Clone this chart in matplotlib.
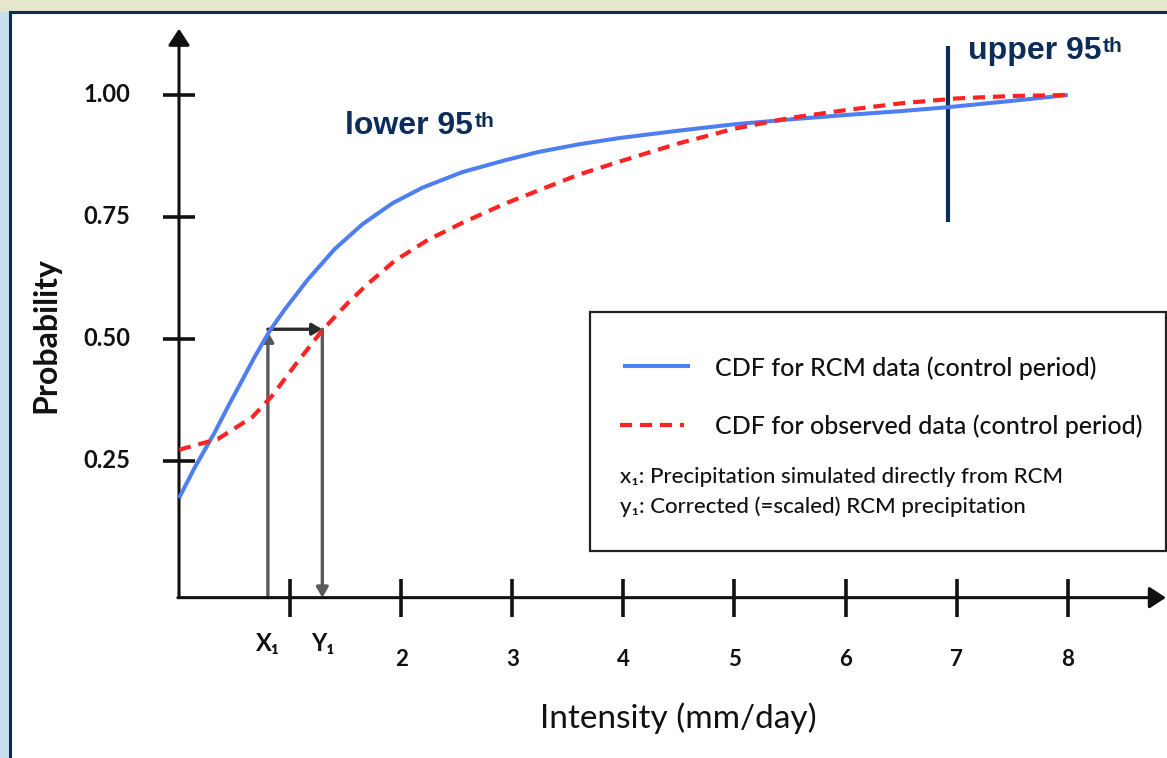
import matplotlib
matplotlib.use('Agg')
import matplotlib.pyplot as plt
from matplotlib.patches import Rectangle
from matplotlib.lines import Line2D
import numpy as np

plt.rcParams['font.family'] = ['Lato', 'DejaVu Sans']

# ---------------- data ----------------
rcm_x = [0.0, 0.14, 0.32, 0.44, 0.57, 0.68, 0.82, 0.95, 1.16, 1.40, 1.65, 1.92, 2.19, 2.55,
         2.93, 3.23, 3.60, 3.97, 4.5, 5.0, 5.5, 6.0, 6.5, 6.92, 7.5, 8.0]
rcm_p = [0.174, 0.236, 0.308, 0.361, 0.416, 0.463, 0.518, 0.560, 0.622, 0.684, 0.735, 0.778, 0.810, 0.842,
         0.866, 0.883, 0.899, 0.912, 0.927, 0.940, 0.950, 0.959, 0.967, 0.975, 0.988, 1.0]
obs_x = [0.0, 0.35, 0.66, 0.84, 1.04, 1.29, 1.52, 1.70, 1.94, 2.24, 2.55, 2.93, 3.23, 3.60,
         3.97, 4.5, 5.0, 5.5, 6.0, 6.5, 7.0, 7.5, 8.0]
obs_p = [0.273, 0.295, 0.340, 0.384, 0.445, 0.518, 0.574, 0.613, 0.660, 0.703, 0.738, 0.777, 0.804, 0.837,
         0.864, 0.901, 0.931, 0.953, 0.969, 0.983, 0.993, 0.998, 1.0]

y_ticks = [0.25, 0.50, 0.75, 1.00]
y_tick_labels = ['0.25', '0.50', '0.75', '1.00']
x_ticks = [1, 2, 3, 4, 5, 6, 7, 8]
x_tick_labels = ['', '2', '3', '4', '5', '6', '7', '8']

x1_val = 0.80      # precipitation simulated by RCM
y1_val = 1.29      # corrected precipitation
p1_val = 0.52      # common probability
upper95_x = 6.92
upper95_span = (0.74, 1.10)

legend_labels = ['CDF for RCM data (control period)',
                 'CDF for observed data (control period)']
legend_notes = ['x\u2081: Precipitation simulated directly from RCM',
                'y\u2081: Corrected (=scaled) RCM precipitation']

# ---------------- layout ----------------
W, H = 1167, 758
X0PX, XSCALE = 179, 111.1      # pixel of x=0, pixels per unit
Y0PX, YSCALE = 583, 488        # pixel of p=0, pixels per unit
axis_y = -0.03                 # probability level of the drawn x-axis line

BLUE = '#4d7ef2'
RED = '#ff2323'
NAVY = '#0c2c59'
INK = '#111111'

def fx(px):
    return px / W

def fy(py):
    return 1 - py / H

fig = plt.figure(figsize=(W / 100, H / 100), dpi=100, facecolor='#e4e6cd')
fig.patches.append(Rectangle((0, 0), fx(10), fy(12), transform=fig.transFigure,
                             facecolor='#c9dff0', edgecolor='none', zorder=-10))
fig.patches.append(Rectangle((fx(10), -0.05), 1.0, fy(12) + 0.05, transform=fig.transFigure,
                             facecolor='white', edgecolor=NAVY, lw=2.2, zorder=-9))

ax = fig.add_axes([0, 0, 1, 1])
ax.set_xlim(-X0PX / XSCALE, (W - X0PX) / XSCALE)
ax.set_ylim((Y0PX - H) / YSCALE, Y0PX / YSCALE)
ax.axis('off')

# axes with arrows
ax.annotate('', xy=(0, 1.136), xytext=(0, axis_y),
            arrowprops=dict(arrowstyle='-|>,head_length=1.0,head_width=0.65',
                            lw=2.2, color=INK, shrinkA=0, shrinkB=0))
ax.annotate('', xy=((W - 1 - X0PX) / XSCALE, axis_y), xytext=(-0.01, axis_y),
            arrowprops=dict(arrowstyle='-|>,head_length=1.0,head_width=0.65',
                            lw=2.2, color=INK, shrinkA=0, shrinkB=0))

# ticks
ax.plot(np.zeros(len(y_ticks)), y_ticks, ls='none', marker='_', ms=23, mew=2.6, color=INK)
ax.plot(x_ticks, [axis_y] * len(x_ticks), ls='none', marker='|', ms=28, mew=2.6, color=INK)
for v, lab in zip(y_ticks, y_tick_labels):
    ax.text(-0.44, v, lab, ha='right', va='center', fontsize=17, fontweight='bold', color=INK)
for v, lab in zip(x_ticks, x_tick_labels):
    ax.text(v, -0.157, lab, ha='center', va='center', fontsize=16, fontweight='bold', color=INK)
ax.text(x1_val, -0.125, 'X\u2081', ha='center', va='center', fontsize=17, fontweight='bold', color=INK)
ax.text(y1_val, -0.125, 'Y\u2081', ha='center', va='center', fontsize=17, fontweight='bold', color=INK)

# curves
ax.plot(rcm_x, rcm_p, color=BLUE, lw=2.9, solid_capstyle='butt', solid_joinstyle='round', zorder=3)
ax.plot(obs_x, obs_p, color=RED, lw=3.0, dashes=(2.9, 1.9), zorder=3)

# mapping arrows
ax.annotate('', xy=(x1_val, p1_val - 0.005), xytext=(x1_val, axis_y),
            arrowprops=dict(arrowstyle='-|>,head_length=0.6,head_width=0.35',
                            lw=2.4, color='#5a5a5a', shrinkA=0, shrinkB=0), zorder=2)
ax.annotate('', xy=(y1_val, p1_val), xytext=(x1_val, p1_val),
            arrowprops=dict(arrowstyle='-|>,head_length=0.6,head_width=0.35',
                            lw=2.4, color='#2b2b2b', shrinkA=0, shrinkB=0), zorder=2)
ax.annotate('', xy=(y1_val, axis_y), xytext=(y1_val, p1_val),
            arrowprops=dict(arrowstyle='-|>,head_length=0.6,head_width=0.35',
                            lw=2.4, color='#5a5a5a', shrinkA=0, shrinkB=0), zorder=2)

# upper 95th marker
ax.plot([upper95_x, upper95_x], upper95_span, color=NAVY, lw=3.0, solid_capstyle='butt')

def percentile_label(xd, yd, word):
    t = ax.text(xd, yd, word + ' 95', fontsize=23, fontweight='bold', color=NAVY,
                family=['Liberation Sans', 'DejaVu Sans'], ha='left', va='baseline')
    ax.annotate('th', xy=(1, 1), xycoords=t, xytext=(1, -1), textcoords='offset points',
                ha='left', va='top', fontsize=15, fontweight='bold', color=NAVY,
                family=['Liberation Sans', 'DejaVu Sans'])

percentile_label((345 - X0PX) / XSCALE, (Y0PX - 134) / YSCALE, 'lower')
percentile_label((968 - X0PX) / XSCALE, (Y0PX - 59) / YSCALE, 'upper')

# axis titles
fig.text(fx(46), fy(335), 'Probability', rotation=90, ha='center', va='center',
         fontsize=23, fontweight='bold', color=INK)
fig.text(fx(678), fy(718), 'Intensity (mm/day)', ha='center', va='center',
         fontsize=24, color=INK)

# legend box (manual)
fig.patches.append(Rectangle((fx(590), fy(551)), (1166 - 590) / W, (551 - 312) / H,
                             transform=fig.transFigure, facecolor='white',
                             edgecolor='#222222', lw=1.6, zorder=5))
fig.add_artist(Line2D([fx(625), fx(688)], [fy(366), fy(366)], transform=fig.transFigure,
                      color=BLUE, lw=2.9, zorder=6))
fig.add_artist(Line2D([fx(620), fx(684)], [fy(425), fy(425)], transform=fig.transFigure,
                      color=RED, lw=3.0, dashes=(2.9, 1.9), zorder=6))
fig.text(fx(715), fy(368), legend_labels[0], ha='left', va='center', fontsize=18,
         fontweight='medium', color='#111111', zorder=7)
fig.text(fx(715), fy(426), legend_labels[1], ha='left', va='center', fontsize=18,
         fontweight='medium', color='#111111', zorder=7)
fig.text(fx(620), fy(477), legend_notes[0], ha='left', va='center', fontsize=16,
         fontweight='medium', color='#111111', zorder=7)
fig.text(fx(620), fy(507), legend_notes[1], ha='left', va='center', fontsize=16,
         fontweight='medium', color='#111111', zorder=7)

fig.savefig('out.png', dpi=100, facecolor=fig.get_facecolor())
